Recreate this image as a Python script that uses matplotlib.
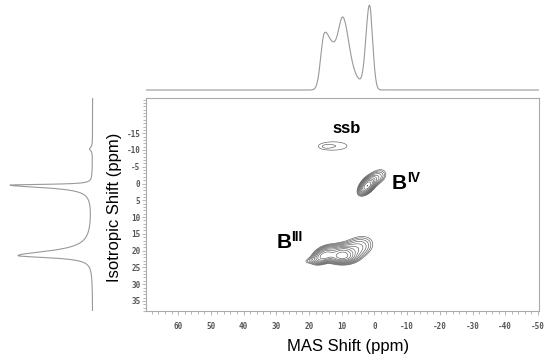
import numpy as np
import matplotlib.pyplot as plt

plt.rcParams['font.family'] = ['Liberation Sans', 'DejaVu Sans']
plt.rcParams['axes.unicode_minus'] = False

# 2D peak model (ppm): MAS centre, isotropic centre, MAS sigma, iso sigma up/down, shear, amplitude
peak_name = ['BIII_a', 'BIII_b', 'BIII_fill', 'BIII_c', 'BIII_tip',
             'BIV_core', 'BIV_wing', 'ssb', 'ssb_core']
peak_x0 = [15.3, 9.8, 12.6, 6.0, 19.5, 2.2, -0.5, 12.5, 15.0]
peak_y0 = [21.6, 21.6, 21.8, 19.8, 22.8, 0.7, -1.5, -11.2, -11.0]
peak_sx = [1.8, 2.0, 1.5, 3.0, 1.5, 1.2, 1.8, 5.0, 1.2]
peak_sup = [1.3, 1.5, 1.0, 2.0, 0.6, 1.1, 1.4, 1.5, 0.5]
peak_sdn = [1.0, 1.0, 1.0, 1.8, 0.6, 1.0, 1.2, 1.5, 0.5]
peak_k = [0.3, 0.0, 0.0, 0.3, 0.3, 0.55, 0.4, 0.0, 0.0]
peak_amp = [0.56, 0.73, 0.10, 0.16, 0.04, 0.85, 0.12, 0.042, 0.012]

levels = [0.03, 0.042, 0.059, 0.082, 0.115, 0.161, 0.226, 0.316, 0.443, 0.62, 0.87]

# MAS projection (top): centre, sigma on high-ppm side, sigma on low-ppm side, height
mas_c = [15.3, 12.6, 9.63, 5.8, 1.5]
mas_sl = [1.1, 1.3, 1.5, 1.8, 1.1]
mas_sr = [1.6, 1.3, 1.8, 1.8, 0.95]
mas_h = [0.64, 0.30, 0.83, 0.12, 1.0]

# isotropic projection (left): centre, half width above/below, height (Lorentzian)
iso_c = [0.45, 21.5, -10.3]
iso_gup = [0.25, 1.7, 0.6]
iso_gdn = [0.95, 0.75, 0.6]
iso_h = [0.97, 0.88, 0.035]

x_ticks = [60, 50, 40, 30, 20, 10, 0, -10, -20, -30, -40, -50]
y_ticks = [-15, -10, -5, 0, 5, 10, 15, 20, 25, 30, 35]

x = np.linspace(-50.3, 69.8, 900)
y = np.linspace(-25.5, 38, 700)
X, Y = np.meshgrid(x, y)
Z = np.zeros_like(X)
for i in range(len(peak_name)):
    dx = X - peak_x0[i]
    u = Y - (peak_y0[i] + peak_k[i] * dx)
    s = np.where(u < 0, peak_sup[i], peak_sdn[i])
    Z += peak_amp[i] * np.exp(-dx**2 / (2 * peak_sx[i]**2) - u**2 / (2 * s**2))

top_proj = np.zeros_like(x)
for c, sl, sr, h in zip(mas_c, mas_sl, mas_sr, mas_h):
    sig = np.where(x > c, sl, sr)
    top_proj += h * np.exp(-(x - c)**2 / (2 * sig**2))

left_proj = np.zeros_like(y)
for c, gu, gd, h in zip(iso_c, iso_gup, iso_gdn, iso_h):
    g = np.where(y < c, gu, gd)
    left_proj += h / (1 + ((y - c) / g)**2)

fig = plt.figure(figsize=(5.5, 3.61), dpi=100)
W, H = 550, 361
ax = fig.add_axes([146/W, 1 - 311/H, 393/W, 213/H])
axt = fig.add_axes([146/W, 1 - 92/H, 393/W, 90/H])
axl = fig.add_axes([0, 1 - 311/H, 95/W, 213/H])

ax.contour(X, Y, Z, levels=levels, colors='#5a5a5a', linewidths=0.45)
ax.set_xlim(69.8, -50.3)
ax.set_ylim(38, -25.5)
ax.set_xticks(x_ticks)
ax.set_yticks(y_ticks)
ax.set_xticks(np.arange(-50, 70, 2), minor=True)
ax.set_yticks(np.arange(-25, 39, 1), minor=True)
for sp in ax.spines.values():
    sp.set_color('#aaaaaa')
    sp.set_linewidth(0.8)
ax.tick_params(which='both', direction='out', color='#999999', width=0.5,
               labelsize=5.5, labelcolor='#555555')
ax.tick_params(which='major', length=3)
ax.tick_params(which='minor', length=2)
ax.tick_params(axis='x', pad=5)
ax.tick_params(axis='y', pad=1)
for lab in ax.get_xticklabels() + ax.get_yticklabels():
    lab.set_family('DejaVu Sans Mono')
    lab.set_weight('bold')

axt.plot(x, top_proj, color='#999999', lw=0.8)
axt.set_xlim(69.8, -50.3)
axt.set_ylim(-0.0237, 1.0436)
axt.axis('off')

axl.plot(left_proj, y, color='#999999', lw=0.8)
axl.set_xlim(1.094, -0.027)
axl.set_ylim(38, -25.5)
axl.axis('off')

ax.text(8.6, -15, 'ssb', fontsize=12, fontweight='bold', ha='center', va='baseline')
ax.text(-5.4, 1.6, 'B', fontsize=15, fontweight='bold', ha='left', va='baseline')
ax.text(-9.9, -0.55, 'IV', fontsize=10, fontweight='bold', ha='left', va='baseline')
ax.text(29.8, 19.3, 'B', fontsize=15, fontweight='bold', ha='left', va='baseline')
ax.text(25.4, 17.1, 'III', fontsize=10, fontweight='bold', ha='left', va='baseline')

fig.text(348/W, 1 - 346.7/H, 'MAS Shift (ppm)', fontsize=12, ha='center', va='center')
fig.text(115/W, 1 - 207/H, 'Isotropic Shift (ppm)', fontsize=12, rotation=90,
         ha='center', va='center')

fig.savefig('out.png', dpi=100)
